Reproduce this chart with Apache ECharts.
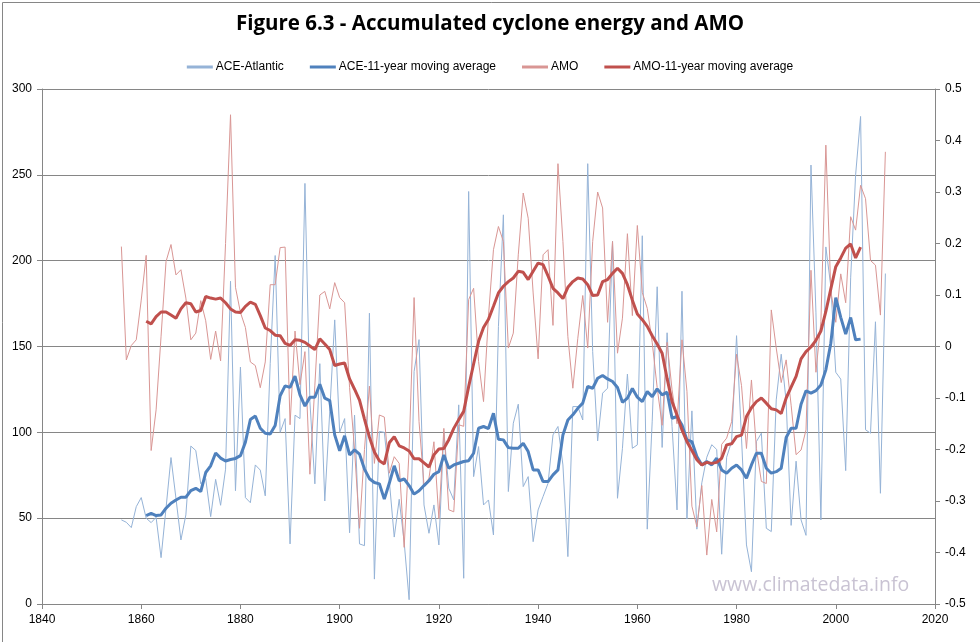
<!DOCTYPE html>
<html>
<head>
<meta charset="utf-8">
<script src="https://cdn.jsdelivr.net/npm/echarts@6/dist/echarts.min.js"></script>
<style>
html,body{margin:0;padding:0;background:#fff;}
#chart{width:980px;height:642px;}
</style>
</head>
<body>
<div id="chart"></div>
<script>
const startYear = 1856;
const maStartYear = 1861;

const aceAtlantic = [
49,47.6,44.5,56.7,62,50,47.4,50.5,27,55.8,
85.3,61.6,37.3,51.9,92,89.4,70,73,50.9,72.6,
57.5,78.5,188,66,138,62,59,81,78,63,
140,203,100,108,35,110,108,245,118,70,
140,60,112,165.5,100,108,41.5,110,35,34,
169.4,14.5,100.5,100,72,39,61,36,2.5,135.4,
154,57.7,41.2,57.7,34.4,100.4,67.4,60.6,116,15,
240.3,74.2,91.7,57.7,60.6,40.2,161.6,226.7,65.5,105.3,
116.4,68.4,74.2,36.3,54.8,62.6,70.3,98.5,103.4,81,
27.6,115,115,107.2,256.5,147,95,122.8,125.7,211.2,
61.6,90.7,133.9,90.7,92.7,214.5,43.6,106.5,184.8,91.2,
158,103.5,54.8,182.2,49.5,112.5,43.6,70.6,85.5,92.8,
90,29,85.5,94.6,156.3,96.6,34.4,18.8,94.6,99.5,
44.1,42.2,118.9,145.5,118,45.8,83.2,49,40,255.7,
170,49,208,185,135,131,77.7,190,250,284,
101.5,99.5,164.4,64.5,192.5
];

const aceMovingAvg = [
51.5,52.8,51.5,51.9,55.8,58.7,60.6,62.2,62.2,66,
67.4,65.5,76.6,80.5,88,85,83.3,84.2,84.8,86.4,
94.3,107.5,109.5,102.4,99.5,99,104,121.3,127.1,126.2,
132.8,121.8,115.3,120.4,120.4,128,119.9,118.5,98.5,89.3,
98,86.8,89.8,87.3,78.6,73,70.8,70,61.1,70.3,
80.5,71.8,72.8,69,64,66,69,71.8,75.6,77.1,
86.8,79.1,81,82,83,83.5,87.8,102.4,103.4,102.2,
111.1,96,95.6,91.1,90.7,90.7,93.6,88.8,78.1,78.1,
71.3,71.3,75.2,78.1,98.5,107.2,110.2,114,117,126.7,
125.7,131.5,133.1,131.1,129.6,126.1,117.5,119.9,125.5,120.5,
117.9,123.8,120.8,125.3,121.8,123.4,108.2,109.2,104.3,95.6,
94.6,85.9,81,83,81,84.9,78.1,76.2,79.1,81,
78.1,73.2,81,87.8,87.8,79.1,76.2,77.1,79.1,97,
102.4,102.4,116.4,124.2,122.8,124.3,127.6,136.4,151.9,178.5,
167,157.2,166.9,153.9,154.3
];

const amo = [
0.194,-0.026,0.002,0.013,0.09,0.177,-0.202,-0.123,0.02,0.165,
0.198,0.139,0.149,0.094,0.013,0.026,0.089,0.05,-0.025,0.03,
-0.028,0.2,0.45,0.115,0.066,0.037,-0.03,-0.037,-0.08,-0.03,
0.12,0.12,0.192,0.193,-0.152,0.03,-0.074,-0.01,-0.248,-0.075,
0.1,0.107,0.073,0.124,0.095,0.085,-0.08,-0.2,-0.353,-0.2,
-0.077,-0.227,-0.133,-0.137,-0.246,-0.214,-0.227,-0.39,-0.2,0.095,
-0.146,-0.269,-0.256,-0.185,-0.334,-0.159,-0.317,-0.321,-0.152,-0.155,
0.091,0.113,-0.029,-0.107,0.06,0.188,0.233,0.204,-0.003,0.026,
0.178,0.298,0.249,0.104,-0.024,0.178,0.188,0.041,0.355,0.204,
0.019,-0.081,0.016,0.099,-0.003,0.204,0.3,0.269,0.047,0.204,
-0.013,0.055,0.219,0.06,0.235,0.105,0.074,0.008,-0.08,-0.153,
0.008,-0.084,-0.15,0.013,-0.087,-0.31,-0.35,-0.27,-0.405,-0.297,
-0.36,-0.19,-0.178,-0.146,-0.015,-0.076,-0.198,-0.065,-0.198,-0.262,
-0.266,0.071,-0.003,-0.07,-0.026,-0.114,-0.21,-0.201,-0.162,0.148,
-0.05,0.048,0.391,0.108,0.047,0.141,0.085,0.252,0.226,0.313,
0.287,0.167,0.158,0.061,0.378
];

const amoMovingAvg = [
0.049,0.044,0.058,0.067,0.067,0.061,0.055,0.073,0.085,0.083,
0.067,0.07,0.097,0.094,0.092,0.094,0.085,0.073,0.067,0.066,
0.078,0.086,0.082,0.06,0.036,0.031,0.022,0.021,0.006,0.002,
0.013,0.012,0.008,0.001,-0.006,0.015,0.005,-0.006,-0.037,-0.034,
-0.032,-0.063,-0.083,-0.104,-0.141,-0.176,-0.205,-0.222,-0.228,-0.187,
-0.175,-0.193,-0.197,-0.203,-0.218,-0.218,-0.226,-0.234,-0.21,-0.199,
-0.198,-0.181,-0.159,-0.142,-0.126,-0.078,-0.034,0.01,0.037,0.053,
0.078,0.104,0.117,0.126,0.133,0.146,0.144,0.13,0.146,0.162,
0.159,0.137,0.113,0.104,0.093,0.115,0.126,0.133,0.131,0.12,
0.099,0.1,0.126,0.13,0.142,0.152,0.142,0.12,0.09,0.063,
0.052,0.039,0.021,0.005,-0.013,-0.062,-0.107,-0.133,-0.162,-0.185,
-0.202,-0.22,-0.23,-0.225,-0.227,-0.225,-0.217,-0.191,-0.189,-0.175,
-0.172,-0.136,-0.119,-0.107,-0.1,-0.11,-0.121,-0.123,-0.13,-0.1,
-0.079,-0.058,-0.024,-0.01,-0.001,0.012,0.03,0.068,0.112,0.155,
0.172,0.191,0.199,0.172,0.193
];

const titleText = 'Figure 6.3 - Accumulated cyclone energy and AMO';
const seriesNames = ['ACE-Atlantic','ACE-11-year moving average','AMO','AMO-11-year moving average'];
const watermark = 'www.climatedata.info';

function pairs(arr, y0){ return arr.map((v,i)=>[y0+i, v]); }

const chart = echarts.init(document.getElementById('chart'));
const axisGray = '#868686';
const font = "'Liberation Sans Narrow', 'Liberation Sans', sans-serif";

chart.setOption({
  animation:false,
  backgroundColor:'#fff',
  title:{
    text:titleText, left:'center', top:9,
    textStyle:{fontFamily:"'Open Sans', sans-serif", fontWeight:'bold', fontSize:20.5, color:'#000'}
  },
  legend:{
    top:56, left:'center', itemGap:26, itemWidth:26, itemHeight:3,
    icon:'rect',
    textStyle:{fontFamily:font, fontSize:12, color:'#000', padding:[0,0,0,-2]},
    data:seriesNames
  },
  grid:{left:42, right:45, top:89, bottom:38},
  xAxis:{
    type:'value', min:1840, max:2020, interval:20,
    axisLine:{lineStyle:{color:axisGray}},
    axisTick:{show:true, length:5, lineStyle:{color:axisGray}},
    axisLabel:{fontFamily:font, fontSize:12, color:'#000', margin:10, formatter:v=>String(v)},
    splitLine:{show:false}
  },
  yAxis:[{
    type:'value', min:0, max:300, interval:50,
    axisLine:{show:true, lineStyle:{color:axisGray}},
    axisTick:{show:true, length:5, lineStyle:{color:axisGray}},
    axisLabel:{fontFamily:font, fontSize:12, color:'#000', margin:10},
    splitLine:{show:true, lineStyle:{color:axisGray, width:1}}
  },{
    type:'value', min:-0.5, max:0.5, interval:0.1,
    axisLine:{show:true, lineStyle:{color:axisGray}},
    axisTick:{show:true, length:5, lineStyle:{color:axisGray}},
    axisLabel:{fontFamily:font, fontSize:12, color:'#000', margin:10,
      formatter:v=>String(Math.round(v*10)/10)},
    splitLine:{show:false}
  }],
  series:[
    {name:seriesNames[0], type:'line', yAxisIndex:0, data:pairs(aceAtlantic,startYear),
     showSymbol:false, lineStyle:{color:'#95B3D7', width:1}, itemStyle:{color:'#95B3D7'}, z:2},
    {name:seriesNames[2], type:'line', yAxisIndex:1, data:pairs(amo,startYear),
     showSymbol:false, lineStyle:{color:'#D99694', width:1}, itemStyle:{color:'#D99694'}, z:2},
    {name:seriesNames[1], type:'line', yAxisIndex:0, data:pairs(aceMovingAvg,maStartYear),
     showSymbol:false, lineStyle:{color:'#4F81BD', width:3}, itemStyle:{color:'#4F81BD'}, z:3},
    {name:seriesNames[3], type:'line', yAxisIndex:1, data:pairs(amoMovingAvg,maStartYear),
     showSymbol:false, lineStyle:{color:'#C0504D', width:3}, itemStyle:{color:'#C0504D'}, z:4}
  ],
  graphic:[
    {type:'rect', left:0, top:0, shape:{width:979, height:641},
     style:{fill:'none', stroke:'#868686', lineWidth:1}, silent:true},
    {type:'text', left:712, top:575,
     style:{text:watermark, fill:'#C9C3D3', font:"19.5px 'Open Sans', sans-serif"}, silent:true}
  ]
});
</script>
</body>
</html>
